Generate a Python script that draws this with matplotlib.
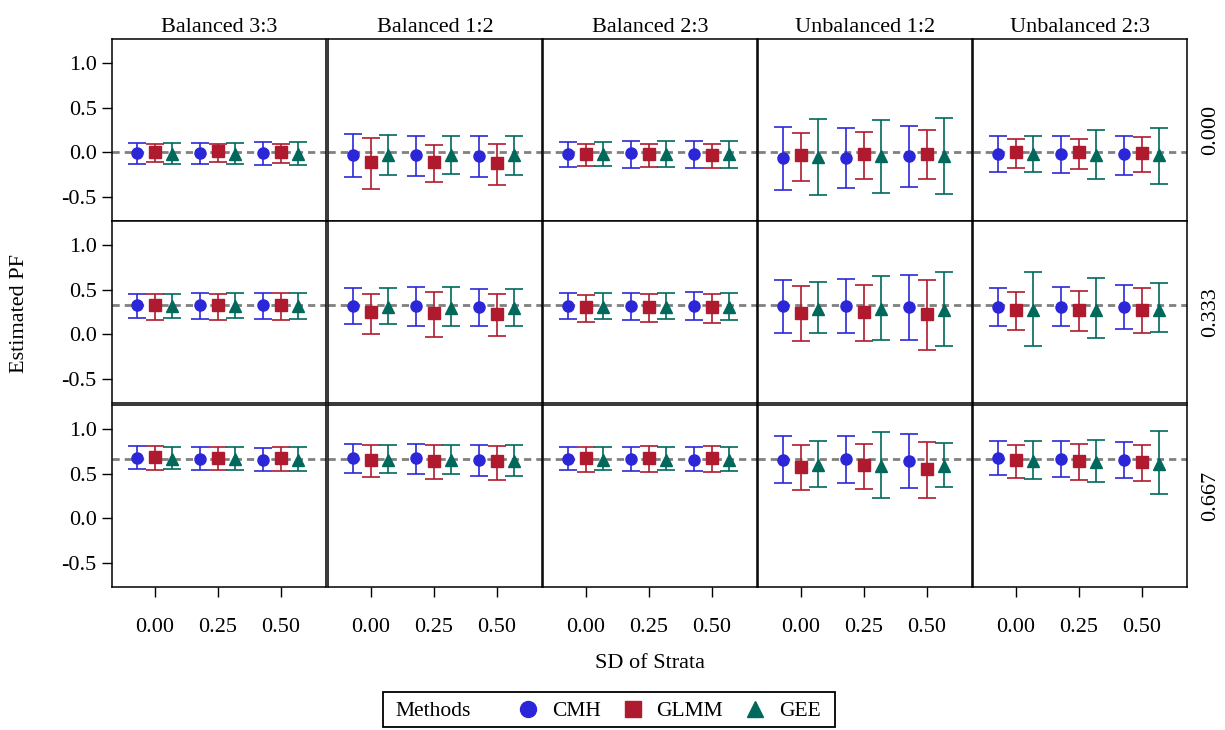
import numpy as np
import matplotlib
matplotlib.use("Agg")
import matplotlib.pyplot as plt
from matplotlib.lines import Line2D
from matplotlib.patches import Rectangle

plt.rcParams['font.family'] = ['Liberation Serif', 'DejaVu Serif']

g_width, g_height = 1225, 730 # Pixels
g_font = 16

designs = ['Balanced 3:3', 'Balanced 1:2', 'Balanced 2:3', 'Unbalanced 1:2', 'Unbalanced 2:3']
true_pf = [0.000, 0.333, 0.667]
sd_labels = ['0.00', '0.25', '0.50']
methods = ['CMH', 'GLMM', 'GEE']
colors = ['#2B27D8', '#AF1A2E', '#00695B']
markers = ['o', 's', '^']

# estimates and interval bounds: [true PF row][design][SD of strata]
cmh_est = [
    [[-0.01, -0.01, -0.01], [-0.03, -0.03, -0.04], [-0.015, -0.01, -0.02], [-0.06, -0.06, -0.045], [-0.02, -0.02, -0.02]],
    [[0.33, 0.33, 0.33], [0.32, 0.315, 0.31], [0.325, 0.325, 0.32], [0.315, 0.32, 0.31], [0.31, 0.31, 0.31]],
    [[0.68, 0.67, 0.66], [0.675, 0.675, 0.66], [0.67, 0.67, 0.66], [0.66, 0.67, 0.65], [0.675, 0.67, 0.655]],
]
cmh_lo = [
    [[-0.13, -0.13, -0.14], [-0.27, -0.26, -0.27], [-0.16, -0.17, -0.17], [-0.42, -0.40, -0.39], [-0.22, -0.23, -0.25]],
    [[0.18, 0.175, 0.17], [0.115, 0.10, 0.09], [0.17, 0.165, 0.16], [0.015, 0.015, -0.06], [0.09, 0.09, 0.065]],
    [[0.555, 0.54, 0.53], [0.51, 0.495, 0.48], [0.54, 0.535, 0.53], [0.40, 0.40, 0.34], [0.49, 0.47, 0.45]],
]
cmh_hi = [
    [[0.11, 0.11, 0.12], [0.21, 0.19, 0.19], [0.12, 0.13, 0.13], [0.29, 0.28, 0.30], [0.18, 0.18, 0.19]],
    [[0.46, 0.465, 0.47], [0.525, 0.53, 0.51], [0.465, 0.465, 0.475], [0.61, 0.625, 0.67], [0.52, 0.535, 0.555]],
    [[0.81, 0.80, 0.79], [0.84, 0.835, 0.83], [0.80, 0.80, 0.80], [0.93, 0.93, 0.95], [0.865, 0.865, 0.86]],
]

glmm_est = [
    [[0.005, 0.02, 0.01], [-0.11, -0.11, -0.12], [-0.02, -0.02, -0.025], [-0.03, -0.02, -0.02], [0.0, 0.0, -0.01]],
    [[0.335, 0.33, 0.33], [0.25, 0.24, 0.23], [0.31, 0.31, 0.31], [0.24, 0.25, 0.23], [0.27, 0.27, 0.28]],
    [[0.69, 0.685, 0.675], [0.655, 0.645, 0.645], [0.68, 0.68, 0.675], [0.58, 0.60, 0.555], [0.655, 0.645, 0.635]],
]
glmm_lo = [
    [[-0.11, -0.11, -0.12], [-0.41, -0.33, -0.36], [-0.15, -0.16, -0.17], [-0.32, -0.30, -0.30], [-0.18, -0.19, -0.22]],
    [[0.16, 0.16, 0.16], [0.01, -0.03, -0.02], [0.14, 0.14, 0.13], [-0.07, -0.07, -0.17], [0.045, 0.035, 0.02]],
    [[0.55, 0.54, 0.535], [0.465, 0.445, 0.43], [0.52, 0.52, 0.52], [0.32, 0.335, 0.235], [0.455, 0.435, 0.42]],
]
glmm_hi = [
    [[0.09, 0.10, 0.10], [0.16, 0.08, 0.09], [0.09, 0.09, 0.09], [0.22, 0.23, 0.25], [0.15, 0.15, 0.17]],
    [[0.46, 0.46, 0.47], [0.46, 0.48, 0.45], [0.44, 0.45, 0.46], [0.54, 0.555, 0.61], [0.48, 0.485, 0.52]],
    [[0.81, 0.805, 0.805], [0.82, 0.82, 0.81], [0.80, 0.81, 0.81], [0.82, 0.84, 0.86], [0.83, 0.84, 0.82]],
]

gee_est = [
    [[-0.02, -0.02, -0.02], [-0.03, -0.03, -0.03], [-0.02, -0.02, -0.02], [-0.05, -0.04, -0.04], [-0.02, -0.03, -0.03]],
    [[0.32, 0.32, 0.32], [0.31, 0.30, 0.30], [0.31, 0.31, 0.31], [0.29, 0.29, 0.28], [0.28, 0.28, 0.28]],
    [[0.665, 0.665, 0.66], [0.655, 0.655, 0.65], [0.66, 0.66, 0.66], [0.60, 0.59, 0.59], [0.65, 0.64, 0.615]],
]
gee_lo = [
    [[-0.13, -0.13, -0.14], [-0.25, -0.24, -0.25], [-0.15, -0.16, -0.17], [-0.48, -0.46, -0.47], [-0.22, -0.30, -0.35]],
    [[0.18, 0.18, 0.17], [0.115, 0.095, 0.095], [0.17, 0.17, 0.16], [0.02, -0.065, -0.135], [-0.13, -0.04, 0.025]],
    [[0.555, 0.54, 0.53], [0.51, 0.495, 0.48], [0.54, 0.54, 0.53], [0.35, 0.23, 0.35], [0.445, 0.41, 0.27]],
]
gee_hi = [
    [[0.11, 0.11, 0.12], [0.20, 0.18, 0.18], [0.12, 0.13, 0.13], [0.38, 0.37, 0.39], [0.18, 0.25, 0.27]],
    [[0.46, 0.47, 0.47], [0.52, 0.53, 0.51], [0.465, 0.465, 0.47], [0.59, 0.655, 0.705], [0.705, 0.635, 0.58]],
    [[0.80, 0.80, 0.80], [0.82, 0.83, 0.82], [0.80, 0.80, 0.80], [0.875, 0.97, 0.845], [0.865, 0.88, 0.985]],
]

method_data = [
    (np.array(cmh_est), np.array(cmh_lo), np.array(cmh_hi)),
    (np.array(glmm_est), np.array(glmm_lo), np.array(glmm_hi)),
    (np.array(gee_est), np.array(gee_lo), np.array(gee_hi)),
]
offsets = [-0.28, 0.0, 0.28]

col_left = [112, 328, 543, 758, 973]
row_top = [39, 221, 405]
cell_w, cell_h = 214, 182

fig = plt.figure(figsize=(g_width / 100, g_height / 100), dpi=100)

def px_rect(x, y, w, h):
    return [x / g_width, 1 - (y + h) / g_height, w / g_width, h / g_height]

x = np.arange(len(sd_labels))
for r, pf in enumerate(true_pf):
    for c, design in enumerate(designs):
        ax = fig.add_axes(px_rect(col_left[c], row_top[r], cell_w, cell_h))
        ref = ax.axhline(pf, color='#808080', lw=2.0, zorder=1)
        ref.set_dashes((2.6, 1.8))
        for m in range(len(methods)):
            est, lo, hi = method_data[m]
            e = est[r, c]
            yerr = np.vstack([e - lo[r, c], hi[r, c] - e])
            ax.errorbar(x + offsets[m], e, yerr=yerr, fmt=markers[m], color=colors[m],
                        ms=8, capsize=6.8, elinewidth=1.2, capthick=1.2, zorder=3)
        ax.set_xlim(-0.68, 2.72)
        ax.set_ylim(-0.77, 1.275)
        ax.set_yticks([-0.5, 0.0, 0.5, 1.0])
        ax.set_xticks(x)
        for s in ax.spines.values():
            s.set_linewidth(1.1)
        ax.tick_params(direction='out', length=7, width=1.0, labelsize=g_font, pad=4)
        if c == 0:
            ax.set_yticklabels(['-0.5', '0.0', '0.5', '1.0'])
        else:
            ax.tick_params(axis='y', left=False, labelleft=False)
        if r == len(true_pf) - 1:
            ax.set_xticklabels(sd_labels)
            ax.tick_params(axis='x', length=7, pad=15)
        else:
            ax.tick_params(axis='x', bottom=False, labelbottom=False)
        if r == 0:
            ax.set_title(design, fontsize=g_font, pad=5)
        if c == len(designs) - 1:
            ax.text(1.11, 0.5, '%.3f' % pf, transform=ax.transAxes, rotation=90,
                    ha='center', va='center', fontsize=g_font)

fig.text(20 / g_width, 1 - 313 / g_height, 'Estimated PF', rotation=90,
         ha='center', va='center', fontsize=g_font)
fig.text(650 / g_width, 1 - 663 / g_height, 'SD of Strata',
         ha='center', va='center', fontsize=g_font)

# legend box with the inline "Methods" title
fig.patches.append(Rectangle((383 / g_width, 1 - 727 / g_height), 452 / g_width, 35 / g_height,
                             transform=fig.transFigure, fill=False, lw=1.3, color='black'))
fig.text(395 / g_width, 1 - 712 / g_height, 'Methods', ha='left', va='center', fontsize=15.5)
handles = [Line2D([], [], ls='none', marker=markers[m], color=colors[m], ms=11.5) for m in range(3)]
fig.legend(handles, methods, loc='center', bbox_to_anchor=(669 / g_width, 1 - 711 / g_height),
           ncol=3, frameon=False, fontsize=15.5, handlelength=1.0, handletextpad=0.6,
           columnspacing=1.0, borderpad=0)

fig.savefig('out.png', dpi=100)
